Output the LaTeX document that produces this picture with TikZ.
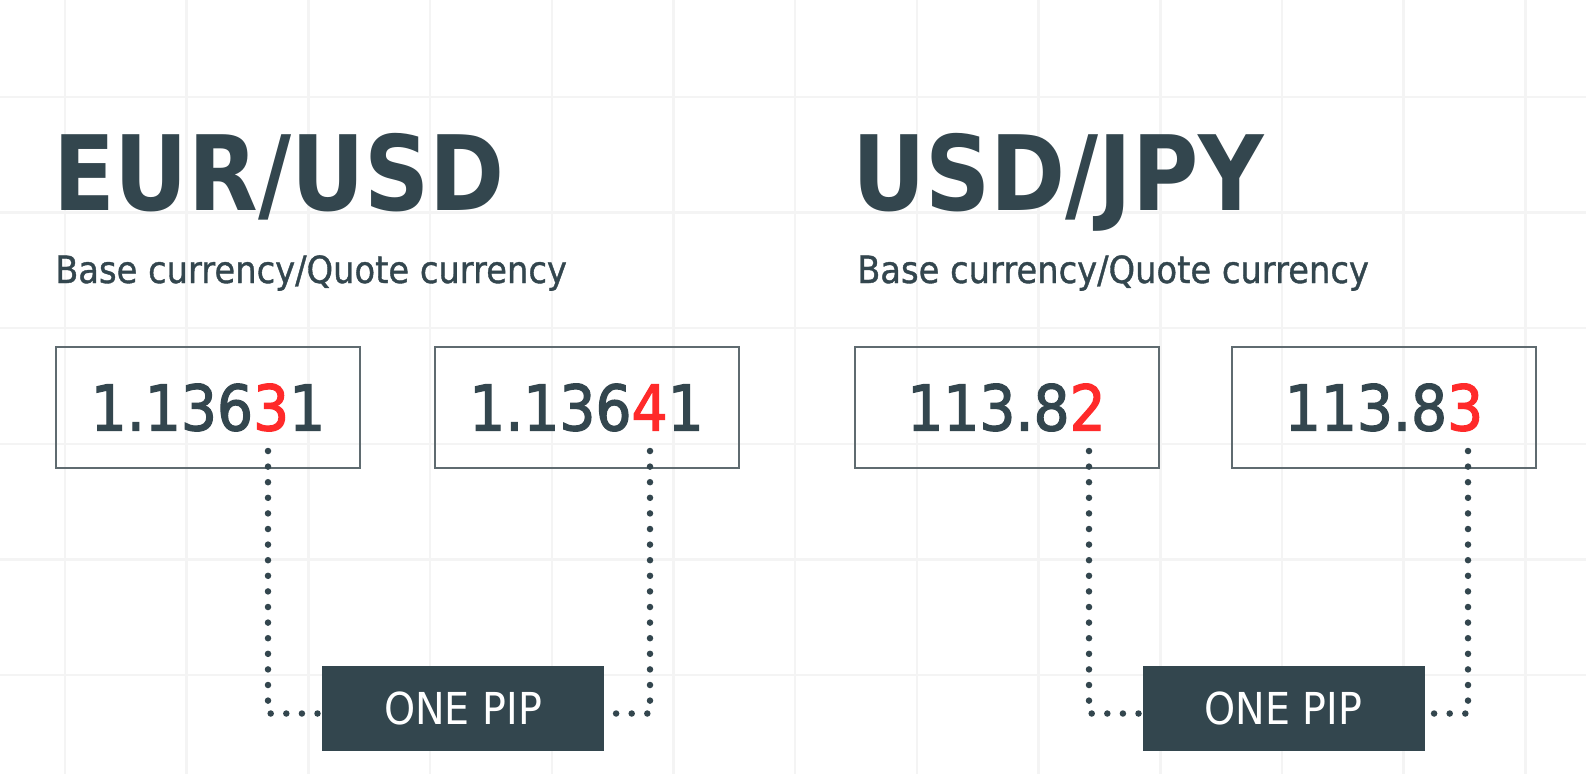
\documentclass[tikz,border=0pt]{standalone}
\usepackage{fontspec}
\setmainfont{DejaVu Sans}[FakeStretch=0.9]
\newfontfamily\titlefont{DejaVu Sans}[FakeStretch=0.87]
\newfontfamily\numfont{DejaVu Sans}[FakeStretch=0.9,FakeBold=2]
\newfontfamily\subfont{DejaVu Sans}[FakeStretch=0.9,FakeBold=1]
\definecolor{slate}{HTML}{33464E}
\definecolor{pipred}{HTML}{FF2A2A}
\definecolor{boxgray}{HTML}{5F6B70}
\definecolor{gridgray}{HTML}{F4F4F4}
\newcommand{\rd}[1]{{\color{pipred}#1}}
\begin{document}
\begin{tikzpicture}[x=1pt,y=-1pt,
  pair/.style={anchor=base west,inner sep=0pt,text=slate,font=\titlefont\bfseries\fontsize{104}{104}\selectfont},
  sub/.style={anchor=base west,inner sep=0pt,text=slate,font=\subfont\fontsize{37.5}{37.5}\selectfont},
  quote/.style={draw=boxgray,line width=2pt,minimum width=304pt,minimum height=121pt,inner sep=0pt,text=slate,font=\numfont\fontsize{63}{63}\selectfont},
  pip/.style={fill=slate,minimum width=282pt,minimum height=85pt,inner sep=0pt,text=white,font=\fontsize{44}{44}\selectfont},
  dots/.style={draw=slate,line width=6.5pt,line cap=round,dash pattern=on 0pt off 15.6pt}]
\useasboundingbox (0,0) rectangle (1586,774);
\fill[white] (0,0) rectangle (1586,774);
% faint grid
\foreach \gx in {0,...,12} \draw[gridgray,line width=2.5pt] (65+121.7*\gx,0) -- ++(0,774);
\foreach \gy in {0,...,5} \draw[gridgray,line width=2.5pt] (0,97+115.6*\gy) -- ++(1586,0);

% EUR/USD
\node[pair] (eurusd) at (53,210) {EUR/USD};
\node[sub] (eurbase) at (55,283) {Base currency/Quote currency};
\node[quote] (eurbid) at (208,407.5) {1.136\rd{3}1};
\node[quote] (eurask) at (586.5,407.5) {1.136\rd{4}1};
\node[pip] (eurpip) at (463,708.5) {ONE PIP};
\coordinate (eurbidpip) at (268,451);
\coordinate (euraskpip) at (650,451);
\draw[dots] (eurbidpip) |- ([yshift=-5pt]eurpip.west);
\draw[dots] (euraskpip) |- ([yshift=-5pt]eurpip.east);

% USD/JPY
\node[pair] (usdjpy) at (852,210) {USD/JPY};
\node[sub] (usdbase) at (857,283) {Base currency/Quote currency};
\node[quote] (usdbid) at (1006.5,407.5) {113.8\rd{2}};
\node[quote] (usdask) at (1384,407.5) {113.8\rd{3}};
\node[pip] (usdpip) at (1283.5,708.5) {ONE PIP};
\coordinate (usdbidpip) at (1089,451);
\coordinate (usdaskpip) at (1468,451);
\draw[dots] (usdbidpip) |- ([yshift=-5pt]usdpip.west);
\draw[dots] (usdaskpip) |- ([yshift=-5pt]usdpip.east);
\end{tikzpicture}
\end{document}
